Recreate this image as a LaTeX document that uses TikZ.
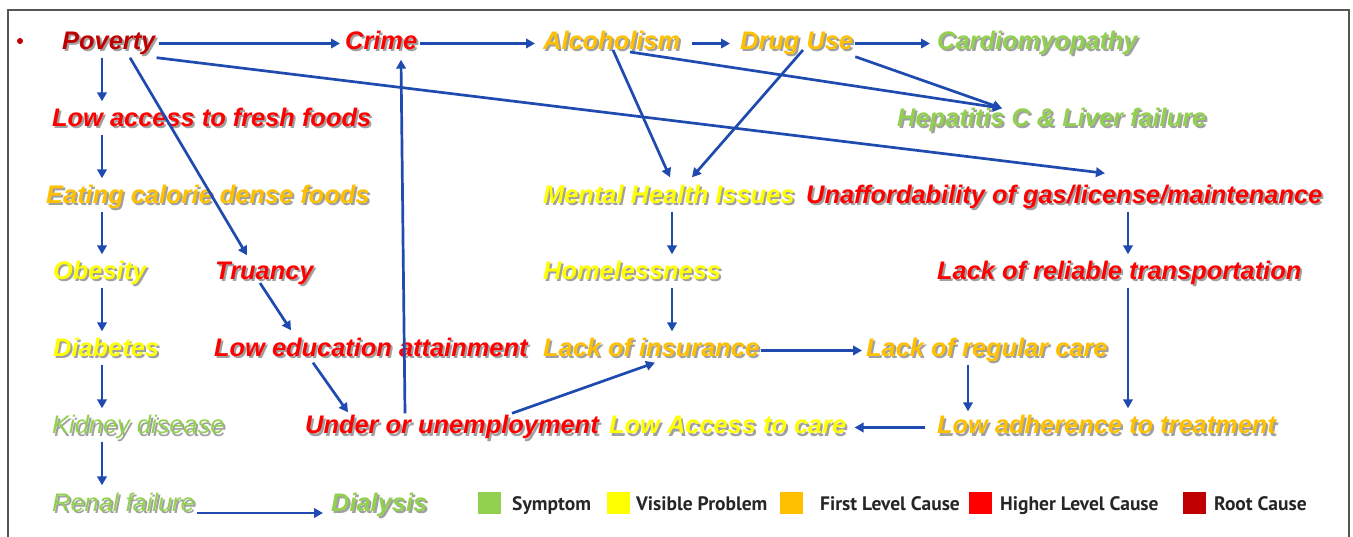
\documentclass[tikz,border=0pt]{standalone}
\usepackage{fontspec}
\setmainfont{Liberation Sans}
\newfontfamily\keyfont{PT Sans}
\usetikzlibrary{arrows.meta,positioning,calc}
\definecolor{rootc}{HTML}{C00000}
\definecolor{highc}{HTML}{FF0000}
\definecolor{firstc}{HTML}{FFC000}
\definecolor{visc}{HTML}{FFFF00}
\definecolor{sympc}{HTML}{92D050}
\definecolor{linkc}{HTML}{1F4BB0}
\definecolor{shadowc}{HTML}{A0A0A0}
\definecolor{framec}{HTML}{555555}
% text with a soft drop shadow
\newcommand\sdw[1]{\leavevmode\rlap{\kern2pt\raisebox{-2pt}{\color{shadowc}#1}}#1}
\tikzset{
  cause/.style={anchor=base west, inner sep=0pt, text height=18.5pt, text depth=5.5pt,
                font=\fontsize{25.4}{30}\selectfont\bfseries\itshape},
  root/.style={cause, text=rootc},
  high/.style={cause, text=highc},
  first/.style={cause, text=firstc},
  vis/.style={cause, text=visc},
  symp/.style={cause, text=sympc},
  light/.style={font=\fontsize{25.4}{30}\selectfont\mdseries\itshape},
  link/.style={-{Triangle[length=9pt,width=9.5pt]}, line width=2.7pt, draw=linkc},
  vlink/.style={link, shorten <=2pt, shorten >=7pt},
  keybox/.style={minimum width=23pt, minimum height=22pt, inner sep=0pt},
  keytext/.style={anchor=base west, inner sep=0pt, font=\keyfont\fontsize{19.5}{22}\selectfont\bfseries,
                  text=black!85}
}
\begin{document}
\begin{tikzpicture}[x=1pt,y=-1pt]
  \useasboundingbox (0,0) rectangle (1353,537);
  \draw[draw=framec, line width=1.3pt] (8,537) -- (8,10) -- (1349,10) -- (1349,537);
  \node[circle, fill=rootc, inner sep=0pt, minimum size=6pt] (dot) at (20,41) {};

  % causes, row by row
  \node[root]  (pov)      at (62,50)   {\sdw{Poverty}};
  \node[high]  (crime)    at (345,50)  {\sdw{Crime}};
  \node[first] (alc)      at (543,50)  {\sdw{Alcoholism}};
  \node[first] (drug)     at (740,50)  {\sdw{Drug Use}};
  \node[symp]  (cardio)   at (937,50)  {\sdw{Cardiomyopathy}};
  \node[high]  (fresh)    at (52,127)  {\sdw{Low access to fresh foods}};
  \node[symp]  (hep)      at (897,127) {\sdw{Hepatitis C \& Liver failure}};
  \node[first] (eat)      at (46,204)  {\sdw{Eating calorie dense foods}};
  \node[vis]   (mental)   at (543,204) {\sdw{Mental Health Issues}};
  \node[high]  (unaff)    at (806,204) {\sdw{Unaffordability of gas/license/maintenance}};
  \node[vis]   (obes)     at (53,280)  {\sdw{Obesity}};
  \node[high]  (truan)    at (215,280) {\sdw{Truancy}};
  \node[vis]   (homeless) at (543,280) {\sdw{Homelessness}};
  \node[high]  (transp)   at (937,280) {\sdw{Lack of reliable transportation}};
  \node[vis]   (diab)     at (53,357)  {\sdw{Diabetes}};
  \node[high]  (edu)      at (214,357) {\sdw{Low education attainment}};
  \node[first] (insur)    at (543,357) {\sdw{Lack of insurance}};
  \node[first] (regcare)  at (866,357) {\sdw{Lack of regular care}};
  \node[symp,light] (kidney) at (52,434) {\sdw{Kidney disease}};
  \node[high]  (under)    at (305,434) {\sdw{Under or unemployment}};
  \node[vis]   (lowacc)   at (609,434) {\sdw{Low Access to care}};
  \node[first] (adher)    at (937,434) {\sdw{Low adherence to treatment}};
  \node[symp,light] (renal) at (52,511) {\sdw{Renal failure}};
  \node[symp]  (dial)     at (331,511) {\sdw{Dialysis}};

  \coordinate (colA) at (102,0);
  \coordinate (colM) at (672,0);
  \coordinate (colR) at (968,0);
  \coordinate (colT) at (1128,0);

  % top row
  \draw[link, shorten <=3pt, shorten >=5pt] (pov.east) -- (pov.east -| crime.west);
  \draw[link, shorten <=3pt, shorten >=8pt] (crime.east) -- (crime.east -| alc.west);
  \draw[link, shorten <=12pt, shorten >=10pt] (alc.east) -- (alc.east -| drug.west);
  \draw[link, shorten <=2pt, shorten >=7pt] (drug.east) -- (drug.east -| cardio.west);
  \draw[link] ([xshift=87pt,yshift=-2pt]alc.base west) -- ([xshift=105pt]hep.north west);
  \draw[link] ([xshift=2pt,yshift=-1pt]drug.south east) -- ([xshift=105pt]hep.north west);
  \draw[link] ([xshift=1pt,yshift=-2pt]pov.south east) -- ([xshift=299pt,yshift=12pt]unaff.north west);
  \draw[link] ([xshift=68pt,yshift=-2pt]pov.south west) -- ([xshift=32pt,yshift=6pt]truan.north west);
  \draw[link] ([xshift=70pt]alc.base west) -- ([xshift=127pt,yshift=8pt]mental.north west);
  \draw[link] ([xshift=63pt]drug.base west) -- ([xshift=149pt,yshift=8pt]mental.north west);

  % left column
  \draw[vlink] (pov.south -| colA) -- (fresh.north -| colA);
  \draw[vlink] (fresh.south -| colA) -- (eat.north -| colA);
  \draw[vlink] (eat.south -| colA) -- (obes.north -| colA);
  \draw[vlink] (obes.south -| colA) -- (diab.north -| colA);
  \draw[vlink] (diab.south -| colA) -- (kidney.north -| colA);
  \draw[vlink] (kidney.south -| colA) -- (renal.north -| colA);
  \draw[link, shorten <=2pt, shorten >=8pt] ([yshift=-2pt]renal.base east) -- ([yshift=-2pt]renal.base east -| dial.base west);

  % education and work
  \draw[link] ([xshift=45pt,yshift=-3pt]truan.base west) -- ([xshift=77pt,yshift=8pt]edu.north west);
  \draw[link] ([xshift=99pt]edu.south west) -- ([xshift=43pt,yshift=3pt]under.north west);
  \draw[link] ([xshift=100pt,yshift=2pt]under.north west) -- ([xshift=56pt,yshift=-4pt]crime.south west);
  \draw[link] ([xshift=207pt,yshift=2pt]under.north west) -- ([xshift=112pt]insur.south west);

  % care
  \draw[vlink] (mental.south -| colM) -- (homeless.north -| colM);
  \draw[vlink] (homeless.south -| colM) -- (insur.north -| colM);
  \draw[link, shorten <=2pt, shorten >=4pt] (insur.east) -- (insur.east -| regcare.west);
  \draw[vlink] (unaff.south -| colT) -- (transp.north -| colT);
  \draw[vlink] (transp.south -| colT) -- (adher.north -| colT);
  \draw[vlink, shorten >=4pt] (regcare.south -| colR) -- (adher.north -| colR);
  \draw[link, shorten <=12pt, shorten >=8pt] (adher.west) -- (adher.west -| lowacc.east);

  % legend
  \foreach \i/\x/\c/\lx/\t in {1/489/sympc/512/Symptom, 2/618/visc/636/Visible Problem,
      3/791/firstc/820/First Level Cause, 4/980/highc/1000/Higher Level Cause,
      5/1194/rootc/1214/Root Cause} {
    \node[keybox, fill=\c] (key\i) at (\x,503) {};
    \node[keytext] (keylbl\i) at (\lx,510) {\t};
  }
\end{tikzpicture}
\end{document}
